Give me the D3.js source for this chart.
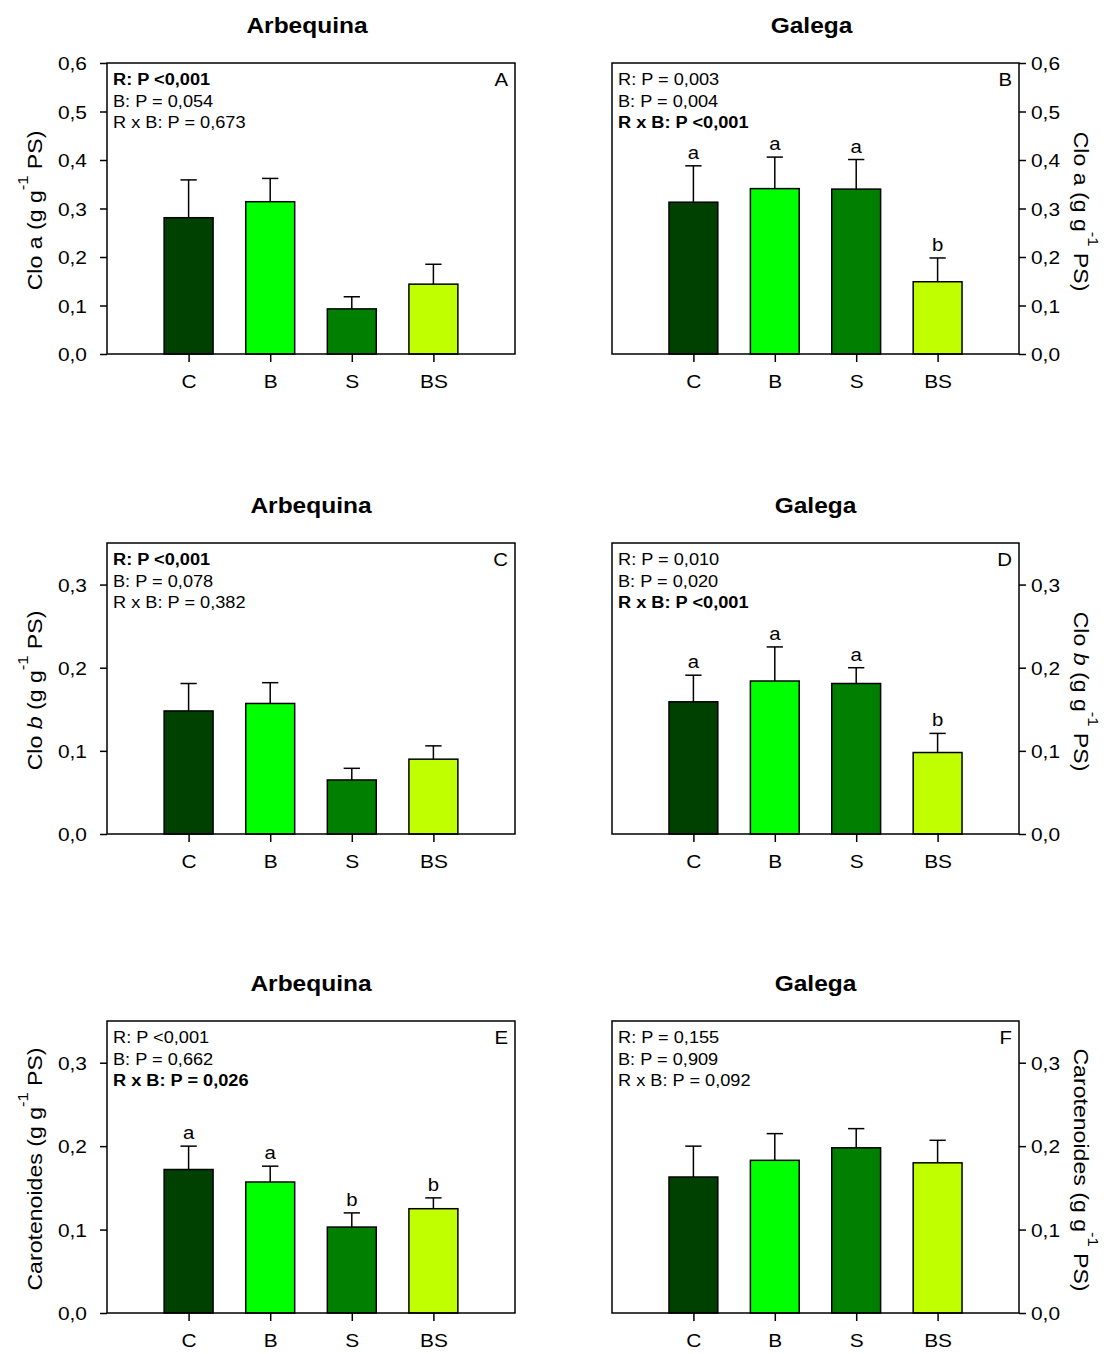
<!DOCTYPE html>
<meta charset="utf-8">
<style>
body{margin:0;background:#fff;}
svg{display:block;font-family:"Liberation Sans",Arial,sans-serif;}
</style>
<script src="https://d3js.org/d3.v7.min.js"></script>
<div id="chart"></div>
<script>
// ---- data ----
const categories = ["C", "B", "S", "BS"];
const barColors = ["#004000", "#00ff00", "#007f00", "#bfff00"];
const cultivars = ["Arbequina", "Galega"];
const panelLetters = ["A", "B", "C", "D", "E", "F"];

// chlorophyll a
const cloA_arbequina    = [0.281, 0.314, 0.093, 0.144];
const cloA_arbequina_se = [0.078, 0.048, 0.025, 0.041];
const cloA_galega       = [0.313, 0.341, 0.340, 0.149];
const cloA_galega_se    = [0.075, 0.065, 0.061, 0.049];
// chlorophyll b
const cloB_arbequina    = [0.148, 0.157, 0.065, 0.090];
const cloB_arbequina_se = [0.033, 0.025, 0.014, 0.016];
const cloB_galega       = [0.159, 0.184, 0.181, 0.098];
const cloB_galega_se    = [0.032, 0.041, 0.019, 0.023];
// carotenoids
const carot_arbequina    = [0.172, 0.157, 0.103, 0.125];
const carot_arbequina_se = [0.028, 0.019, 0.017, 0.013];
const carot_galega       = [0.163, 0.183, 0.198, 0.180];
const carot_galega_se    = [0.037, 0.032, 0.023, 0.027];

// significance letters (null = none shown)
const letters_cloA_galega = ["a", "a", "a", "b"];
const letters_cloB_galega = ["a", "a", "a", "b"];
const letters_carot_arbequina = ["a", "a", "b", "b"];

// ANOVA text, index of the bold line
const stats_A = ["R: P <0,001", "B: P = 0,054", "R x B: P = 0,673"];
const stats_B = ["R: P = 0,003", "B: P = 0,004", "R x B: P <0,001"];
const stats_C = ["R: P <0,001", "B: P = 0,078", "R x B: P = 0,382"];
const stats_D = ["R: P = 0,010", "B: P = 0,020", "R x B: P <0,001"];
const stats_E = ["R: P <0,001", "B: P = 0,662", "R x B: P = 0,026"];
const stats_F = ["R: P = 0,155", "B: P = 0,909", "R x B: P = 0,092"];
const boldLine = [0, 2, 0, 2, 2, -1];

const ticks_cloA = [0, 0.1, 0.2, 0.3, 0.4, 0.5, 0.6];
const ticks_small = [0, 0.1, 0.2, 0.3];

// ---- layout ----
const W = 1110, H = 1354;
const SX = 1.1; // glyphs in the figure are drawn a bit wider than Arial
const cols = [{x0: 107, x1: 515}, {x0: 612, x1: 1019}];
const rows = [
  {y0: 63,   y1: 354,  max: 0.6,  ticks: ticks_cloA},
  {y0: 543,  y1: 834,  max: 0.35, ticks: ticks_small},
  {y0: 1021, y1: 1313, max: 0.35, ticks: ticks_small}
];
const yLabels = [
  [{t: "Clo "}, {t: "a"}, {t: " (g g"}, {t: "-1", sup: true}, {t: " PS)"}],
  [{t: "Clo "}, {t: "b", italic: true}, {t: " (g g"}, {t: "-1", sup: true}, {t: " PS)"}],
  [{t: "Carotenoides (g g"}, {t: "-1", sup: true}, {t: " PS)"}]
];

const panels = [
  {row: 0, col: 0, v: cloA_arbequina,  se: cloA_arbequina_se,  sig: null, stats: stats_A},
  {row: 0, col: 1, v: cloA_galega,     se: cloA_galega_se,     sig: letters_cloA_galega, stats: stats_B},
  {row: 1, col: 0, v: cloB_arbequina,  se: cloB_arbequina_se,  sig: null, stats: stats_C},
  {row: 1, col: 1, v: cloB_galega,     se: cloB_galega_se,     sig: letters_cloB_galega, stats: stats_D},
  {row: 2, col: 0, v: carot_arbequina, se: carot_arbequina_se, sig: letters_carot_arbequina, stats: stats_E},
  {row: 2, col: 1, v: carot_galega,    se: carot_galega_se,    sig: null, stats: stats_F}
];

const fmt = d => d3.format(".1f")(d).replace(".", ",");

const svg = d3.select("#chart").append("svg")
  .attr("width", W).attr("height", H);
svg.append("rect").attr("width", W).attr("height", H).attr("fill", "#fff");

function label(parent, x, y, txt, o) {
  return parent.append("text")
    .attr("transform", `translate(${x},${y}) rotate(${o.rot || 0}) scale(${o.sx || SX},1)`)
    .attr("text-anchor", o.anchor || "start")
    .attr("font-size", o.size)
    .attr("font-weight", o.bold ? "bold" : null)
    .attr("fill", "#000")
    .text(txt);
}

panels.forEach((p, i) => {
  const c = cols[p.col], r = rows[p.row];
  const g = svg.append("g");

  const x = d3.scaleLinear().domain([0, 5]).range([c.x0, c.x1]);
  const y = d3.scaleLinear().domain([0, r.max]).range([r.y1, r.y0]);
  const bw = x(0.6) - x(0);
  const capW = x(0.1) - x(0);

  // title
  label(g, (c.x0 + c.x1) / 2 - (p.row === 0 ? 4 : 0), r.y0 - 30, cultivars[p.col],
        {anchor: "middle", size: 21.5, bold: true, sx: 1.14});

  // bars
  g.selectAll("rect.bar").data(p.v).join("rect")
    .attr("class", "bar")
    .attr("x", (d, j) => x(j + 1) - bw / 2)
    .attr("width", bw)
    .attr("y", d => y(d))
    .attr("height", d => y(0) - y(d))
    .attr("fill", (d, j) => barColors[j])
    .attr("stroke", "#000").attr("stroke-width", 1.5);

  // error bars (upper only)
  const eb = g.selectAll("g.err").data(p.v).join("g").attr("class", "err")
    .attr("stroke", "#000").attr("stroke-width", 1.5);
  eb.append("line")
    .attr("x1", (d, j) => x(j + 1)).attr("x2", (d, j) => x(j + 1))
    .attr("y1", d => y(d)).attr("y2", (d, j) => y(d + p.se[j]));
  eb.append("line")
    .attr("x1", (d, j) => x(j + 1) - capW).attr("x2", (d, j) => x(j + 1) + capW)
    .attr("y1", (d, j) => y(d + p.se[j])).attr("y2", (d, j) => y(d + p.se[j]));

  if (p.sig) {
    p.sig.forEach((s, j) => {
      label(g, x(j + 1), y(p.v[j] + p.se[j]) - 7, s, {anchor: "middle", size: 18.5});
    });
  }

  // frame
  g.append("rect")
    .attr("x", c.x0).attr("y", r.y0)
    .attr("width", c.x1 - c.x0).attr("height", r.y1 - r.y0)
    .attr("fill", "none").attr("stroke", "#000").attr("stroke-width", 1.5);

  // y axis on the outer side
  const left = p.col === 0;
  const ya = g.append("g")
    .attr("transform", `translate(${left ? c.x0 : c.x1},0)`)
    .call((left ? d3.axisLeft(y) : d3.axisRight(y))
      .tickValues(r.ticks).tickFormat(fmt).tickSizeInner(7).tickSizeOuter(0));
  ya.select(".domain").remove();
  ya.attr("font-size", 19).attr("font-family", null);
  ya.selectAll(".tick line").attr("stroke-width", 1.5);
  ya.selectAll(".tick text")
    .attr("x", null).attr("dy", "0.36em")
    .attr("text-anchor", left ? "end" : "start")
    .attr("transform", `translate(${left ? -20 : 12},0) scale(${SX},1)`);

  // x axis
  const xa = g.append("g")
    .attr("transform", `translate(0,${r.y1})`)
    .call(d3.axisBottom(x).tickValues([1, 2, 3, 4])
      .tickFormat(d => categories[d - 1]).tickSizeInner(8).tickSizeOuter(0));
  xa.select(".domain").remove();
  xa.attr("font-size", 19).attr("font-family", null);
  xa.selectAll(".tick line").attr("stroke-width", 1.5);
  xa.selectAll(".tick text")
    .attr("y", null).attr("dy", null)
    .attr("transform", `translate(0,34) scale(${SX},1)`);

  // anova text
  p.stats.forEach((s, k) => {
    label(g, c.x0 + 6, r.y0 + 22 + k * 21.5, s, {size: 17, sx: 1.07, bold: boldLine[i] === k});
  });

  // panel letter
  label(g, c.x1 - 7, r.y0 + 23, panelLetters[i], {anchor: "end", size: 18.5});

  // y axis title
  const mid = (r.y0 + r.y1) / 2;
  const t = g.append("text")
    .attr("transform", left
      ? `translate(42,${mid + 2}) rotate(-90) scale(${SX},1)`
      : `translate(1074,${mid + 3}) rotate(90) scale(${SX},1)`)
    .attr("text-anchor", "middle")
    .attr("font-size", 21);
  yLabels[p.row].forEach((part, k, arr) => {
    const prevSup = k > 0 && arr[k - 1].sup;
    t.append("tspan")
      .attr("font-style", part.italic ? "italic" : null)
      .attr("font-size", part.sup ? 15 : null)
      .attr("dy", part.sup ? -14 : (prevSup ? 14 : null))
      .text(part.t);
  });
});
</script>
